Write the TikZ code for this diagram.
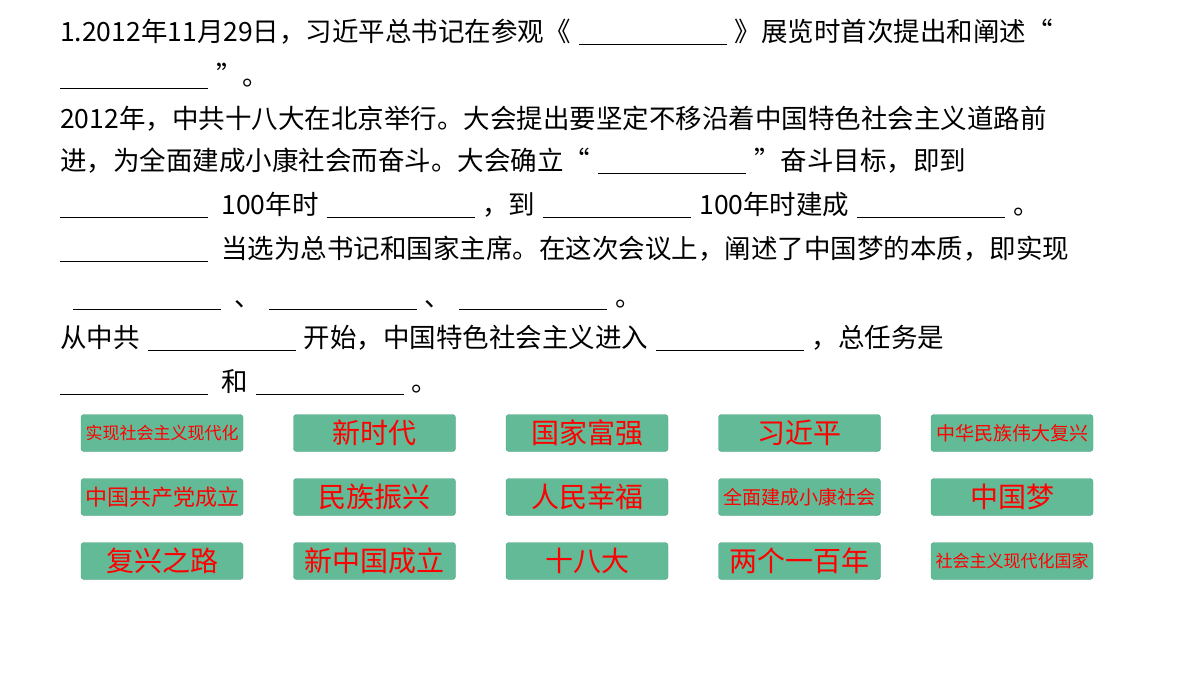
\documentclass[tikz,border=0pt]{standalone}
\usepackage{fontspec}
\setmainfont{Noto Sans CJK SC}
\definecolor{btn}{HTML}{62BA97}
\definecolor{btnline}{HTML}{4FA582}
\newcommand{\blk}{\hspace{0.3em}\rule[-4pt]{148pt}{0.8pt}\hspace{0.3em}}
\tikzset{
  ln/.style={anchor=base west,inner sep=0pt,font=\fontsize{26.5}{28}\selectfont},
  btnbox/.style={draw=btnline,fill=btn,rounded corners=3pt,minimum width=162pt,minimum height=37pt,inner sep=0pt,text=red}
}
\begin{document}
\begin{tikzpicture}[x=1pt,y=-1pt]
\useasboundingbox (0,0) rectangle (1200,675);
\node[ln] (l1) at (60,41) {1.2012年11月29日，习近平总书记在参观《\blk{}》展览时首次提出和阐述“};
\node[ln] (l2) at (60,85) {\rule[-4pt]{148pt}{0.8pt}\hspace{0.3em}”。};
\node[ln] (l3) at (60,128) {2012年，中共十八大在北京举行。大会提出要坚定不移沿着中国特色社会主义道路前};
\node[ln] (l4) at (60,170) {进，为全面建成小康社会而奋斗。大会确立“\blk{}”奋斗目标，即到};
\node[ln] (l5) at (60,214) {\rule[-4pt]{148pt}{0.8pt}\hspace{0.5em}100年时\blk{}，到\blk{}100年时建成\blk{}。};
\node[ln] (l6) at (60,258) {\rule[-4pt]{148pt}{0.8pt}\hspace{0.5em}当选为总书记和国家主席。在这次会议上，阐述了中国梦的本质，即实现};
\node[ln] (l7) at (73,306) {\rule[-4pt]{148pt}{0.8pt}\hspace{0.5em}、\blk{}、\blk{}。};
\node[ln] (l8) at (60,347) {从中共\blk{}开始，中国特色社会主义进入\blk{}，总任务是};
\node[ln] (l9) at (60,391) {\rule[-4pt]{148pt}{0.8pt}\hspace{0.5em}和\blk{}。};
\foreach \t/\s [count=\i from 0] in {实现社会主义现代化/17,新时代/28,国家富强/28,习近平/28,中华民族伟大复兴/19}
  \node[btnbox,font=\fontsize{\s}{\s}\selectfont] (a\i) at (162+212.5*\i,433) {\t};
\foreach \t/\s [count=\i from 0] in {中国共产党成立/22,民族振兴/28,人民幸福/28,全面建成小康社会/19,中国梦/28}
  \node[btnbox,font=\fontsize{\s}{\s}\selectfont] (b\i) at (162+212.5*\i,497) {\t};
\foreach \t/\s [count=\i from 0] in {复兴之路/28,新中国成立/28,十八大/28,两个一百年/28,社会主义现代化国家/17}
  \node[btnbox,font=\fontsize{\s}{\s}\selectfont] (c\i) at (162+212.5*\i,561) {\t};
\end{tikzpicture}
\end{document}
